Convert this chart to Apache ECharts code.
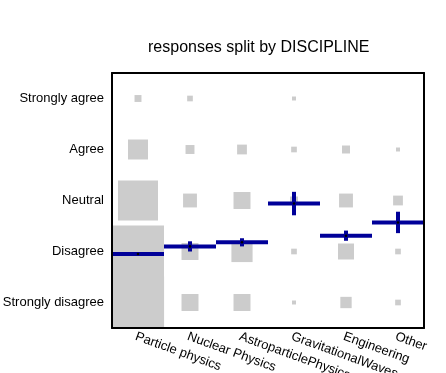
<!DOCTYPE html>
<html>
<head>
<meta charset="utf-8">
<script src="https://cdn.jsdelivr.net/npm/echarts@6/dist/echarts.min.js"></script>
<style>
html, body { margin: 0; padding: 0; background: #fff; }
#chart { width: 446px; height: 373px; }
</style>
</head>
<body>
<div id="chart"></div>
<script>
var disciplines = ['Particle physics', 'Nuclear Physics', 'AstroparticlePhysics', 'GravitationalWaves', 'Engineering', 'Other'];
var levels = ['Strongly disagree', 'Disagree', 'Neutral', 'Agree', 'Strongly agree'];

// counts of answers per level, one entry per discipline
var stronglyDisagree = [170, 18, 18, 1, 8, 2];
var disagree = [169, 18, 28, 2, 16, 2];
var neutral = [100, 12, 18, 4, 12, 6];
var agree = [25, 5, 6, 2, 4, 1];
var stronglyAgree = [3, 2, 0, 1, 0, 0];

// mean answer (1 = strongly disagree .. 5 = strongly agree) and its error
var means = [1.95, 2.10, 2.18, 2.94, 2.31, 2.57];
var errors = [0.03, 0.10, 0.08, 0.23, 0.10, 0.21];

var countRows = [stronglyDisagree, disagree, neutral, agree, stronglyAgree];
var squareData = [];
countRows.forEach(function (row, li) {
	row.forEach(function (n, di) {
		if (n > 0) squareData.push([di, li + 1, n]);
	});
});
var meanData = means.map(function (m, i) { return [i, m, errors[i]]; });

var blue = '#000099';
var font = 'Liberation Sans, Arial, sans-serif';

function renderSquare(params, api) {
	var p = api.coord([api.value(0), api.value(1)]);
	var s = 4 * Math.sqrt(api.value(2));
	return {
		type: 'rect',
		shape: { x: p[0] - s / 2, y: p[1] - s / 2, width: s, height: s },
		style: { fill: '#cccccc' }
	};
}

function renderMean(params, api) {
	var c = api.coord([api.value(0), api.value(1)]);
	var w = api.size([1, 0])[0];
	var hi = api.coord([api.value(0), api.value(1) + api.value(2)]);
	var lo = api.coord([api.value(0), api.value(1) - api.value(2)]);
	return {
		type: 'group',
		children: [
			{ type: 'line', shape: { x1: c[0] - w / 2, y1: c[1], x2: c[0] + w / 2, y2: c[1] }, style: { stroke: blue, lineWidth: 4 } },
			{ type: 'line', shape: { x1: c[0], y1: hi[1], x2: c[0], y2: lo[1] }, style: { stroke: blue, lineWidth: 4 } },
			{ type: 'circle', shape: { cx: c[0], cy: c[1], r: 1.3 }, style: { fill: '#000' } }
		]
	};
}

var chart = echarts.init(document.getElementById('chart'));
chart.setOption({
	animation: false,
	title: {
		text: 'responses split by DISCIPLINE',
		left: 148, top: 40, padding: 0,
		textStyle: { fontFamily: font, fontSize: 16, fontWeight: 'normal', color: '#000' }
	},
	grid: { left: 112, right: 22, top: 73, bottom: 45, outerBoundsMode: 'none', containLabel: false },
	xAxis: [{
		type: 'category', data: disciplines, position: 'bottom', z: 10,
		axisLine: { lineStyle: { color: '#000', width: 2 } },
		axisTick: { inside: true, length: 5, lineStyle: { color: '#000', width: 2 } },
		axisLabel: { rotate: -20, align: 'left', verticalAlign: 'top', margin: 2, color: '#000', fontFamily: font, fontSize: 13, interval: 0 }
	}, {
		type: 'category', data: disciplines, position: 'top', z: 10,
		axisLine: { lineStyle: { color: '#000', width: 2 } },
		axisTick: { show: false }, axisLabel: { show: false }
	}],
	yAxis: [{
		type: 'category', data: levels, position: 'left', z: 10,
		axisLine: { lineStyle: { color: '#000', width: 2 } },
		axisTick: { alignWithLabel: true, length: 6, lineStyle: { color: '#000', width: 2 } },
		axisLabel: { margin: 8, color: '#000', fontFamily: font, fontSize: 13 }
	}, {
		type: 'value', min: 0.5, max: 5.5, position: 'right', z: 10,
		axisLine: { show: true, lineStyle: { color: '#000', width: 2 } },
		axisTick: { show: false }, axisLabel: { show: false }, splitLine: { show: false }
	}],
	series: [{
		type: 'custom', xAxisIndex: 0, yAxisIndex: 1, clip: true,
		renderItem: renderSquare, data: squareData
	}, {
		type: 'custom', xAxisIndex: 0, yAxisIndex: 1, clip: true,
		renderItem: renderMean, data: meanData
	}]
});
</script>
</body>
</html>
